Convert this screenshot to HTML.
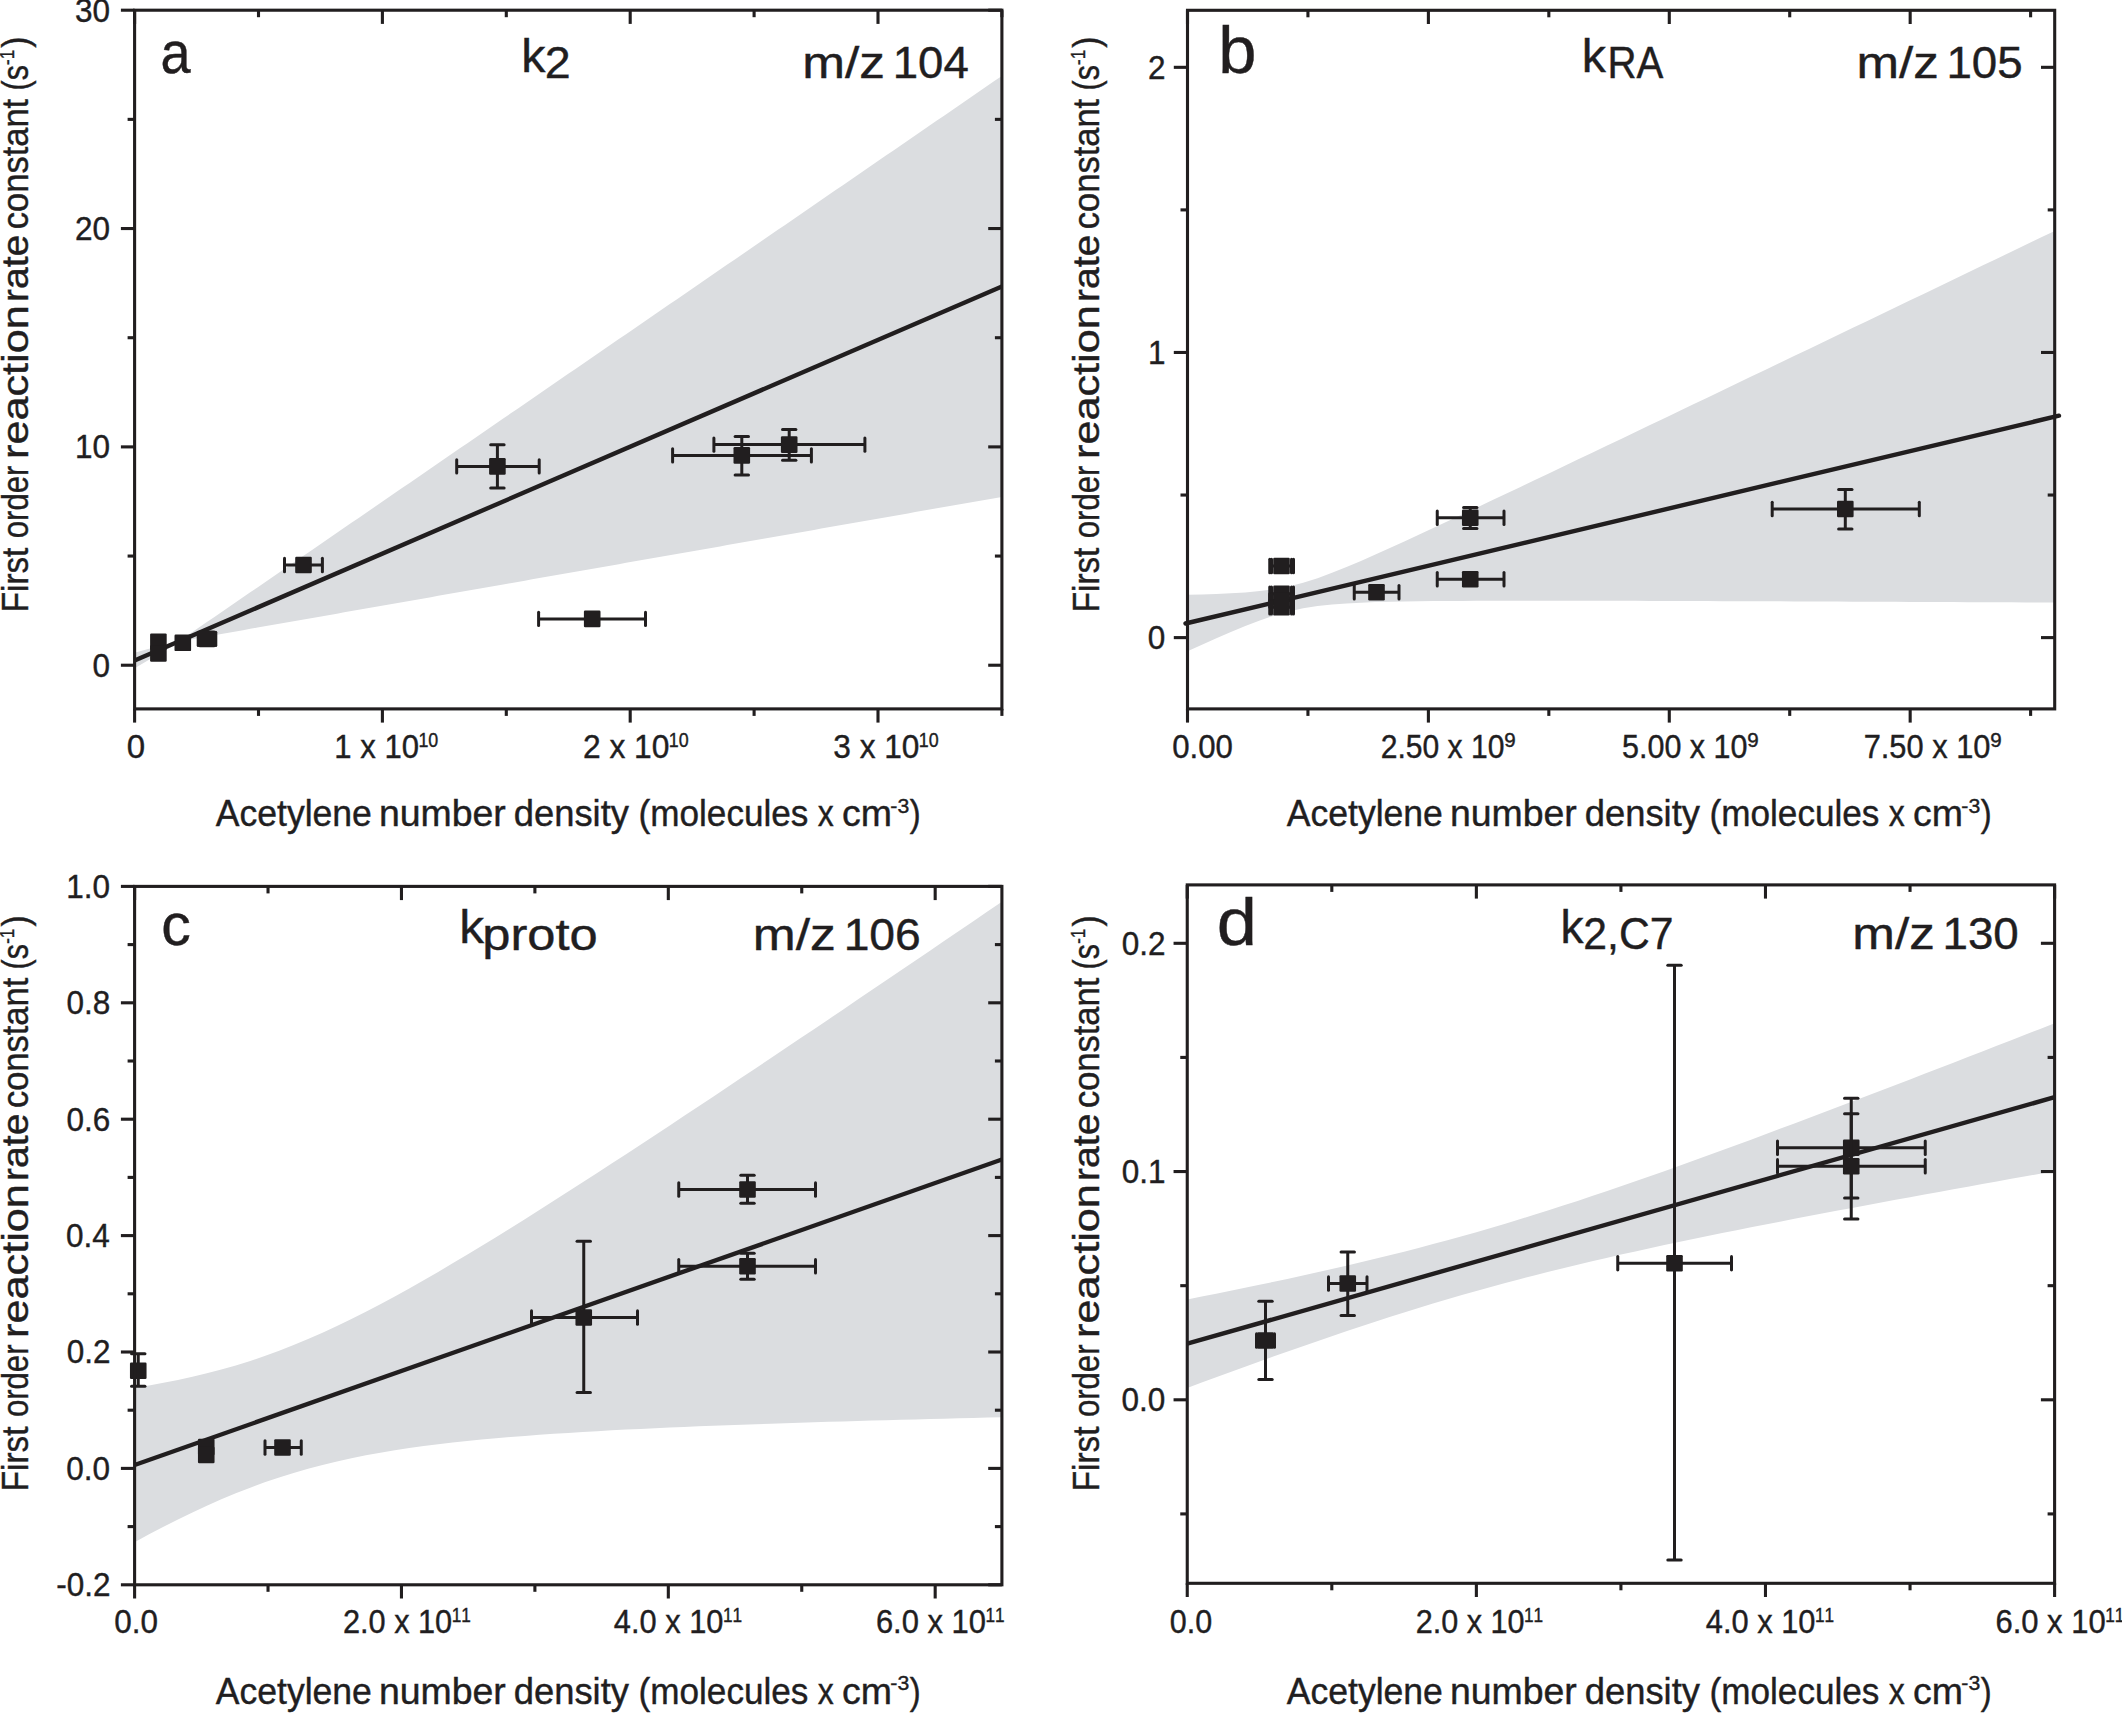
<!DOCTYPE html>
<html lang="en"><head><meta charset="utf-8"><title>First order reaction rate constants vs acetylene number density</title>
<style>html,body{margin:0;padding:0;background:#fff;}body{width:2122px;height:1713px;overflow:hidden;}svg{display:block;}text{font-family:'Liberation Sans', sans-serif;fill:#211e1f;stroke:#211e1f;stroke-width:0.4px;font-kerning:none;}</style>
</head><body>
<svg width="2122" height="1713" viewBox="0 0 2122 1713">
<rect width="2122" height="1713" fill="#ffffff"/>
<g id="panel-a">
<polygon fill="#dbdde0" points="134.6,652.84 141.83,650.81 149.06,648.77 156.28,646.74 163.51,644.71 170.74,642.67 177.96,640.64 185.19,636.8 192.42,631.98 199.65,627.07 206.88,622.12 214.1,617.17 221.33,612.22 228.56,607.26 235.78,602.3 243.01,597.33 250.24,592.37 257.47,587.41 264.69,582.44 271.92,577.48 279.15,572.51 286.38,567.55 293.61,562.58 300.83,557.62 308.06,552.65 315.29,547.69 322.51,542.72 329.74,537.75 336.97,532.79 344.2,527.82 351.42,522.86 358.65,517.89 365.88,512.93 373.11,507.96 380.33,502.99 387.56,498.03 394.79,493.06 402.02,488.1 409.25,483.13 416.47,478.16 423.7,473.2 430.93,468.23 438.15,463.27 445.38,458.3 452.61,453.33 459.84,448.37 467.06,443.4 474.29,438.44 481.52,433.47 488.75,428.5 495.98,423.54 503.2,418.57 510.43,413.6 517.66,408.64 524.88,403.67 532.11,398.71 539.34,393.74 546.57,388.77 553.79,383.81 561.02,378.84 568.25,373.87 575.48,368.91 582.7,363.94 589.93,358.98 597.16,354.01 604.39,349.04 611.62,344.08 618.84,339.11 626.07,334.15 633.3,329.18 640.52,324.21 647.75,319.25 654.98,314.28 662.21,309.31 669.43,304.35 676.66,299.38 683.89,294.42 691.12,289.45 698.35,284.48 705.57,279.52 712.8,274.55 720.03,269.58 727.25,264.62 734.48,259.65 741.71,254.69 748.94,249.72 756.17,244.75 763.39,239.79 770.62,234.82 777.85,229.85 785.08,224.89 792.3,219.92 799.53,214.96 806.76,209.99 813.99,205.02 821.21,200.06 828.44,195.09 835.67,190.12 842.89,185.16 850.12,180.19 857.35,175.23 864.58,170.26 871.8,165.29 879.03,160.33 886.26,155.36 893.49,150.39 900.71,145.43 907.94,140.46 915.17,135.5 922.4,130.53 929.62,125.56 936.85,120.6 944.08,115.63 951.31,110.66 958.53,105.7 965.76,100.73 972.99,95.76 980.22,90.8 987.44,85.83 994.67,80.87 1001.9,75.9 1001.9,496.9 994.67,498.17 987.44,499.44 980.22,500.71 972.99,501.98 965.76,503.24 958.53,504.51 951.31,505.78 944.08,507.05 936.85,508.32 929.62,509.59 922.4,510.86 915.17,512.12 907.94,513.39 900.71,514.66 893.49,515.93 886.26,517.2 879.03,518.47 871.8,519.74 864.58,521.01 857.35,522.27 850.12,523.54 842.89,524.81 835.67,526.08 828.44,527.35 821.21,528.62 813.99,529.89 806.76,531.16 799.53,532.42 792.3,533.69 785.08,534.96 777.85,536.23 770.62,537.5 763.39,538.77 756.17,540.04 748.94,541.31 741.71,542.57 734.48,543.84 727.25,545.11 720.03,546.38 712.8,547.65 705.57,548.92 698.35,550.19 691.12,551.46 683.89,552.72 676.66,553.99 669.43,555.26 662.21,556.53 654.98,557.8 647.75,559.07 640.52,560.34 633.3,561.61 626.07,562.87 618.84,564.14 611.62,565.41 604.39,566.68 597.16,567.95 589.93,569.22 582.7,570.49 575.48,571.76 568.25,573.03 561.02,574.29 553.79,575.56 546.57,576.83 539.34,578.1 532.11,579.37 524.88,580.64 517.66,581.91 510.43,583.18 503.2,584.44 495.98,585.71 488.75,586.98 481.52,588.25 474.29,589.52 467.06,590.79 459.84,592.06 452.61,593.33 445.38,594.6 438.15,595.86 430.93,597.13 423.7,598.4 416.47,599.67 409.25,600.94 402.02,602.21 394.79,603.48 387.56,604.75 380.33,606.02 373.11,607.29 365.88,608.55 358.65,609.82 351.42,611.09 344.2,612.36 336.97,613.63 329.74,614.9 322.51,616.17 315.29,617.44 308.06,618.71 300.83,619.98 293.61,621.25 286.38,622.52 279.15,623.79 271.92,625.06 264.69,626.33 257.47,627.6 250.24,628.87 243.01,630.14 235.78,631.41 228.56,632.69 221.33,633.96 214.1,635.24 206.88,636.53 199.65,637.82 192.42,639.14 185.19,640.55 177.96,642.95 170.74,647.15 163.51,651.35 156.28,655.56 149.06,659.76 141.83,663.96 134.6,668.16"/>
<line x1="134.6" y1="660.5" x2="1001.9" y2="286.4" stroke="#211e1f" stroke-width="4.4" stroke-linecap="butt"/>
<rect x="150.1" y="633.4" width="16.6" height="16.6" rx="1.2" fill="#211e1f"/>
<rect x="150.1" y="645.2" width="16.6" height="16.6" rx="1.2" fill="#211e1f"/>
<rect x="174.5" y="634.5" width="16.6" height="16.6" rx="1.2" fill="#211e1f"/>
<line x1="198.2" y1="638.9" x2="215.8" y2="638.9" stroke="#211e1f" stroke-width="3.0" stroke-linecap="butt"/>
<line x1="198.2" y1="632.2" x2="198.2" y2="645.6" stroke="#211e1f" stroke-width="3.0" stroke-linecap="round"/>
<line x1="215.8" y1="632.2" x2="215.8" y2="645.6" stroke="#211e1f" stroke-width="3.0" stroke-linecap="round"/>
<rect x="198.7" y="630.6" width="16.6" height="16.6" rx="1.2" fill="#211e1f"/>
<line x1="284.5" y1="565" x2="322.4" y2="565" stroke="#211e1f" stroke-width="3.0" stroke-linecap="butt"/>
<line x1="284.5" y1="558.3" x2="284.5" y2="571.7" stroke="#211e1f" stroke-width="3.0" stroke-linecap="round"/>
<line x1="322.4" y1="558.3" x2="322.4" y2="571.7" stroke="#211e1f" stroke-width="3.0" stroke-linecap="round"/>
<rect x="295.2" y="556.7" width="16.6" height="16.6" rx="1.2" fill="#211e1f"/>
<line x1="456.7" y1="466.4" x2="539.2" y2="466.4" stroke="#211e1f" stroke-width="3.0" stroke-linecap="butt"/>
<line x1="456.7" y1="459.7" x2="456.7" y2="473.1" stroke="#211e1f" stroke-width="3.0" stroke-linecap="round"/>
<line x1="539.2" y1="459.7" x2="539.2" y2="473.1" stroke="#211e1f" stroke-width="3.0" stroke-linecap="round"/>
<line x1="497.4" y1="444.7" x2="497.4" y2="488" stroke="#211e1f" stroke-width="3.0" stroke-linecap="butt"/>
<line x1="490.7" y1="444.7" x2="504.1" y2="444.7" stroke="#211e1f" stroke-width="3.0" stroke-linecap="round"/>
<line x1="490.7" y1="488" x2="504.1" y2="488" stroke="#211e1f" stroke-width="3.0" stroke-linecap="round"/>
<rect x="489.1" y="458.1" width="16.6" height="16.6" rx="1.2" fill="#211e1f"/>
<line x1="538.6" y1="618.9" x2="645.5" y2="618.9" stroke="#211e1f" stroke-width="3.0" stroke-linecap="butt"/>
<line x1="538.6" y1="612.2" x2="538.6" y2="625.6" stroke="#211e1f" stroke-width="3.0" stroke-linecap="round"/>
<line x1="645.5" y1="612.2" x2="645.5" y2="625.6" stroke="#211e1f" stroke-width="3.0" stroke-linecap="round"/>
<rect x="583.9" y="610.6" width="16.6" height="16.6" rx="1.2" fill="#211e1f"/>
<line x1="672.6" y1="455.4" x2="811.4" y2="455.4" stroke="#211e1f" stroke-width="3.0" stroke-linecap="butt"/>
<line x1="672.6" y1="448.7" x2="672.6" y2="462.1" stroke="#211e1f" stroke-width="3.0" stroke-linecap="round"/>
<line x1="811.4" y1="448.7" x2="811.4" y2="462.1" stroke="#211e1f" stroke-width="3.0" stroke-linecap="round"/>
<line x1="741.8" y1="436.4" x2="741.8" y2="475" stroke="#211e1f" stroke-width="3.0" stroke-linecap="butt"/>
<line x1="735.1" y1="436.4" x2="748.5" y2="436.4" stroke="#211e1f" stroke-width="3.0" stroke-linecap="round"/>
<line x1="735.1" y1="475" x2="748.5" y2="475" stroke="#211e1f" stroke-width="3.0" stroke-linecap="round"/>
<rect x="733.5" y="447.1" width="16.6" height="16.6" rx="1.2" fill="#211e1f"/>
<line x1="713.9" y1="444.6" x2="864.9" y2="444.6" stroke="#211e1f" stroke-width="3.0" stroke-linecap="butt"/>
<line x1="713.9" y1="437.9" x2="713.9" y2="451.3" stroke="#211e1f" stroke-width="3.0" stroke-linecap="round"/>
<line x1="864.9" y1="437.9" x2="864.9" y2="451.3" stroke="#211e1f" stroke-width="3.0" stroke-linecap="round"/>
<line x1="789.2" y1="429.4" x2="789.2" y2="460.2" stroke="#211e1f" stroke-width="3.0" stroke-linecap="butt"/>
<line x1="782.5" y1="429.4" x2="795.9" y2="429.4" stroke="#211e1f" stroke-width="3.0" stroke-linecap="round"/>
<line x1="782.5" y1="460.2" x2="795.9" y2="460.2" stroke="#211e1f" stroke-width="3.0" stroke-linecap="round"/>
<rect x="780.9" y="436.3" width="16.6" height="16.6" rx="1.2" fill="#211e1f"/>
<line x1="134.6" y1="708.9" x2="134.6" y2="722.6" stroke="#211e1f" stroke-width="3.1" stroke-linecap="butt"/>
<line x1="134.6" y1="10.2" x2="134.6" y2="23.9" stroke="#211e1f" stroke-width="3.1" stroke-linecap="butt"/>
<line x1="382.4" y1="708.9" x2="382.4" y2="722.6" stroke="#211e1f" stroke-width="3.1" stroke-linecap="butt"/>
<line x1="382.4" y1="10.2" x2="382.4" y2="23.9" stroke="#211e1f" stroke-width="3.1" stroke-linecap="butt"/>
<line x1="630.2" y1="708.9" x2="630.2" y2="722.6" stroke="#211e1f" stroke-width="3.1" stroke-linecap="butt"/>
<line x1="630.2" y1="10.2" x2="630.2" y2="23.9" stroke="#211e1f" stroke-width="3.1" stroke-linecap="butt"/>
<line x1="878" y1="708.9" x2="878" y2="722.6" stroke="#211e1f" stroke-width="3.1" stroke-linecap="butt"/>
<line x1="878" y1="10.2" x2="878" y2="23.9" stroke="#211e1f" stroke-width="3.1" stroke-linecap="butt"/>
<line x1="258.5" y1="708.9" x2="258.5" y2="715.9" stroke="#211e1f" stroke-width="3.1" stroke-linecap="butt"/>
<line x1="258.5" y1="10.2" x2="258.5" y2="17.2" stroke="#211e1f" stroke-width="3.1" stroke-linecap="butt"/>
<line x1="506.3" y1="708.9" x2="506.3" y2="715.9" stroke="#211e1f" stroke-width="3.1" stroke-linecap="butt"/>
<line x1="506.3" y1="10.2" x2="506.3" y2="17.2" stroke="#211e1f" stroke-width="3.1" stroke-linecap="butt"/>
<line x1="754.1" y1="708.9" x2="754.1" y2="715.9" stroke="#211e1f" stroke-width="3.1" stroke-linecap="butt"/>
<line x1="754.1" y1="10.2" x2="754.1" y2="17.2" stroke="#211e1f" stroke-width="3.1" stroke-linecap="butt"/>
<line x1="1001.9" y1="708.9" x2="1001.9" y2="715.9" stroke="#211e1f" stroke-width="3.1" stroke-linecap="butt"/>
<line x1="1001.9" y1="10.2" x2="1001.9" y2="17.2" stroke="#211e1f" stroke-width="3.1" stroke-linecap="butt"/>
<line x1="120.9" y1="665.23" x2="134.6" y2="665.23" stroke="#211e1f" stroke-width="3.1" stroke-linecap="butt"/>
<line x1="988.2" y1="665.23" x2="1001.9" y2="665.23" stroke="#211e1f" stroke-width="3.1" stroke-linecap="butt"/>
<line x1="120.9" y1="446.89" x2="134.6" y2="446.89" stroke="#211e1f" stroke-width="3.1" stroke-linecap="butt"/>
<line x1="988.2" y1="446.89" x2="1001.9" y2="446.89" stroke="#211e1f" stroke-width="3.1" stroke-linecap="butt"/>
<line x1="120.9" y1="228.54" x2="134.6" y2="228.54" stroke="#211e1f" stroke-width="3.1" stroke-linecap="butt"/>
<line x1="988.2" y1="228.54" x2="1001.9" y2="228.54" stroke="#211e1f" stroke-width="3.1" stroke-linecap="butt"/>
<line x1="120.9" y1="10.2" x2="134.6" y2="10.2" stroke="#211e1f" stroke-width="3.1" stroke-linecap="butt"/>
<line x1="988.2" y1="10.2" x2="1001.9" y2="10.2" stroke="#211e1f" stroke-width="3.1" stroke-linecap="butt"/>
<line x1="127.6" y1="556.06" x2="134.6" y2="556.06" stroke="#211e1f" stroke-width="3.1" stroke-linecap="butt"/>
<line x1="994.9" y1="556.06" x2="1001.9" y2="556.06" stroke="#211e1f" stroke-width="3.1" stroke-linecap="butt"/>
<line x1="127.6" y1="337.72" x2="134.6" y2="337.72" stroke="#211e1f" stroke-width="3.1" stroke-linecap="butt"/>
<line x1="994.9" y1="337.72" x2="1001.9" y2="337.72" stroke="#211e1f" stroke-width="3.1" stroke-linecap="butt"/>
<line x1="127.6" y1="119.37" x2="134.6" y2="119.37" stroke="#211e1f" stroke-width="3.1" stroke-linecap="butt"/>
<line x1="994.9" y1="119.37" x2="1001.9" y2="119.37" stroke="#211e1f" stroke-width="3.1" stroke-linecap="butt"/>
<rect x="134.6" y="10.2" width="867.3" height="698.7" fill="none" stroke="#211e1f" stroke-width="3.1"/>
<text transform="translate(110.13,21.55) scale(0.955,1)" font-size="33" text-anchor="end">30</text>
<text transform="translate(110.13,239.9) scale(0.955,1)" font-size="33" text-anchor="end">20</text>
<text transform="translate(110.13,458.24) scale(0.955,1)" font-size="33" text-anchor="end">10</text>
<text transform="translate(110.13,676.58) scale(0.955,1)" font-size="33" text-anchor="end">0</text>
<text x="126.71" y="757.7" font-size="33" text-anchor="start" textLength="18.38" lengthAdjust="spacingAndGlyphs">0</text>
<text x="334.33" y="757.7" font-size="33" text-anchor="start" textLength="84.68" lengthAdjust="spacingAndGlyphs">1 x 10</text>
<text x="418.44" y="746.7" font-size="20.5" text-anchor="start" textLength="19.86" lengthAdjust="spacingAndGlyphs" stroke-width="0.7">10</text>
<text x="582.9" y="757.7" font-size="33" text-anchor="start" textLength="86.54" lengthAdjust="spacingAndGlyphs">2 x 10</text>
<text x="668.84" y="746.7" font-size="20.5" text-anchor="start" textLength="19.86" lengthAdjust="spacingAndGlyphs" stroke-width="0.7">10</text>
<text x="833.3" y="757.7" font-size="33" text-anchor="start" textLength="86.14" lengthAdjust="spacingAndGlyphs">3 x 10</text>
<text x="918.84" y="746.7" font-size="20.5" text-anchor="start" textLength="19.86" lengthAdjust="spacingAndGlyphs" stroke-width="0.7">10</text>
<text x="215.83" y="826.3" font-size="36" text-anchor="start" textLength="156.05" lengthAdjust="spacingAndGlyphs">Acetylene</text>
<text x="378.91" y="826.3" font-size="36" text-anchor="start" textLength="126.91" lengthAdjust="spacingAndGlyphs">number</text>
<text x="513.77" y="826.3" font-size="36" text-anchor="start" textLength="115.2" lengthAdjust="spacingAndGlyphs">density</text>
<text x="638.62" y="826.3" font-size="36" text-anchor="start" textLength="169.75" lengthAdjust="spacingAndGlyphs">(molecules</text>
<text x="817.74" y="826.3" font-size="36" text-anchor="start" textLength="16" lengthAdjust="spacingAndGlyphs">x</text>
<text x="842.01" y="826.3" font-size="36" text-anchor="start" textLength="49.96" lengthAdjust="spacingAndGlyphs">cm</text>
<text x="890.36" y="812.8" font-size="21" text-anchor="start" textLength="18.88" lengthAdjust="spacingAndGlyphs" stroke-width="0.7">-3</text>
<text x="909.81" y="826.3" font-size="36" text-anchor="start" textLength="10.93" lengthAdjust="spacingAndGlyphs">)</text>
<g transform="translate(27.6,609.6) rotate(-90)">
<text x="-2.73" y="0" font-size="36" text-anchor="start" textLength="64.67" lengthAdjust="spacingAndGlyphs">First</text>
<text x="71.39" y="0" font-size="36" text-anchor="start" textLength="72.62" lengthAdjust="spacingAndGlyphs">order</text>
<text x="150.63" y="0" font-size="36" text-anchor="start" textLength="153.67" lengthAdjust="spacingAndGlyphs">reaction</text>
<text x="307.61" y="0" font-size="36" text-anchor="start" textLength="67.33" lengthAdjust="spacingAndGlyphs">rate</text>
<text x="380.44" y="0" font-size="36" text-anchor="start" textLength="130.32" lengthAdjust="spacingAndGlyphs">constant</text>
<text x="519.11" y="0" font-size="36" text-anchor="start" textLength="25.39" lengthAdjust="spacingAndGlyphs">(s</text>
<text x="544.64" y="-14" font-size="21" text-anchor="start" textLength="15.19" lengthAdjust="spacingAndGlyphs" stroke-width="0.7">-1</text>
<text x="561.91" y="0" font-size="36" text-anchor="start" textLength="11.05" lengthAdjust="spacingAndGlyphs">)</text>
</g>
<text x="160.46" y="73.25" font-size="60" text-anchor="start" textLength="30.04" lengthAdjust="spacingAndGlyphs">a</text>
<text x="521.24" y="71.75" font-size="46.5" text-anchor="start" textLength="24.19" lengthAdjust="spacingAndGlyphs">k</text>
<text x="544.65" y="77.5" font-size="44" text-anchor="start" textLength="25.94" lengthAdjust="spacingAndGlyphs">2</text>
<text x="802.34" y="77.5" font-size="44" text-anchor="start" textLength="82.72" lengthAdjust="spacingAndGlyphs">m/z</text>
<text x="892.78" y="77.5" font-size="44" text-anchor="start" textLength="76.06" lengthAdjust="spacingAndGlyphs">104</text>
</g>
<g id="panel-b">
<polygon fill="#dbdde0" points="1187.5,594.73 1201.95,594.4 1216.41,593.95 1230.86,593.32 1245.31,592.42 1259.77,591.11 1274.22,589.2 1288.67,586.47 1303.13,582.77 1317.58,578.15 1332.03,572.83 1346.49,567.02 1360.94,560.88 1375.39,554.53 1389.85,548.03 1404.3,541.44 1418.75,534.77 1433.21,528.05 1447.66,521.29 1462.11,514.5 1476.57,507.69 1491.02,500.86 1505.47,494.01 1519.93,487.15 1534.38,480.28 1548.83,473.4 1563.29,466.51 1577.74,459.62 1592.19,452.72 1606.65,445.82 1621.1,438.91 1635.55,432 1650.01,425.08 1664.46,418.16 1678.91,411.24 1693.37,404.32 1707.82,397.4 1722.27,390.47 1736.73,383.54 1751.18,376.61 1765.63,369.68 1780.09,362.75 1794.54,355.82 1808.99,348.88 1823.45,341.95 1837.9,335.01 1852.35,328.08 1866.81,321.14 1881.26,314.2 1895.71,307.26 1910.17,300.32 1924.62,293.38 1939.07,286.44 1953.53,279.5 1967.98,272.56 1982.43,265.62 1996.89,258.67 2011.34,251.73 2025.79,244.79 2040.25,237.85 2054.7,230.9 2054.7,602.54 2040.25,602.48 2025.79,602.41 2011.34,602.34 1996.89,602.28 1982.43,602.21 1967.98,602.15 1953.53,602.08 1939.07,602.02 1924.62,601.95 1910.17,601.89 1895.71,601.83 1881.26,601.77 1866.81,601.71 1852.35,601.64 1837.9,601.58 1823.45,601.52 1808.99,601.47 1794.54,601.41 1780.09,601.35 1765.63,601.3 1751.18,601.24 1736.73,601.19 1722.27,601.14 1707.82,601.09 1693.37,601.04 1678.91,601 1664.46,600.95 1650.01,600.91 1635.55,600.87 1621.1,600.84 1606.65,600.81 1592.19,600.78 1577.74,600.76 1563.29,600.74 1548.83,600.73 1534.38,600.73 1519.93,600.73 1505.47,600.75 1491.02,600.78 1476.57,600.82 1462.11,600.89 1447.66,600.97 1433.21,601.09 1418.75,601.25 1404.3,601.46 1389.85,601.74 1375.39,602.12 1360.94,602.65 1346.49,603.39 1332.03,604.45 1317.58,606.01 1303.13,608.27 1288.67,611.44 1274.22,615.58 1259.77,620.55 1245.31,626.12 1230.86,632.1 1216.41,638.35 1201.95,644.77 1187.5,651.32"/>
<line x1="1185.5" y1="623.5" x2="2059" y2="415.7" stroke="#211e1f" stroke-width="4.4" stroke-linecap="round"/>
<line x1="1269.75" y1="566" x2="1293.5" y2="566" stroke="#211e1f" stroke-width="3.0" stroke-linecap="butt"/>
<line x1="1269.75" y1="559.3" x2="1269.75" y2="572.7" stroke="#211e1f" stroke-width="3.0" stroke-linecap="round"/>
<line x1="1293.5" y1="559.3" x2="1293.5" y2="572.7" stroke="#211e1f" stroke-width="3.0" stroke-linecap="round"/>
<rect x="1273.2" y="557.7" width="16.6" height="16.6" rx="1.2" fill="#211e1f"/>
<line x1="1269.75" y1="593.8" x2="1293.5" y2="593.8" stroke="#211e1f" stroke-width="3.0" stroke-linecap="butt"/>
<line x1="1269.75" y1="587.1" x2="1269.75" y2="600.5" stroke="#211e1f" stroke-width="3.0" stroke-linecap="round"/>
<line x1="1293.5" y1="587.1" x2="1293.5" y2="600.5" stroke="#211e1f" stroke-width="3.0" stroke-linecap="round"/>
<rect x="1273.2" y="585.5" width="16.6" height="16.6" rx="1.2" fill="#211e1f"/>
<line x1="1269.75" y1="600.5" x2="1293.5" y2="600.5" stroke="#211e1f" stroke-width="3.0" stroke-linecap="butt"/>
<line x1="1269.75" y1="593.8" x2="1269.75" y2="607.2" stroke="#211e1f" stroke-width="3.0" stroke-linecap="round"/>
<line x1="1293.5" y1="593.8" x2="1293.5" y2="607.2" stroke="#211e1f" stroke-width="3.0" stroke-linecap="round"/>
<rect x="1273.2" y="592.2" width="16.6" height="16.6" rx="1.2" fill="#211e1f"/>
<line x1="1269.75" y1="607.2" x2="1293.5" y2="607.2" stroke="#211e1f" stroke-width="3.0" stroke-linecap="butt"/>
<line x1="1269.75" y1="600.5" x2="1269.75" y2="613.9" stroke="#211e1f" stroke-width="3.0" stroke-linecap="round"/>
<line x1="1293.5" y1="600.5" x2="1293.5" y2="613.9" stroke="#211e1f" stroke-width="3.0" stroke-linecap="round"/>
<rect x="1273.2" y="598.9" width="16.6" height="16.6" rx="1.2" fill="#211e1f"/>
<line x1="1354.25" y1="592.25" x2="1399" y2="592.25" stroke="#211e1f" stroke-width="3.0" stroke-linecap="butt"/>
<line x1="1354.25" y1="585.55" x2="1354.25" y2="598.95" stroke="#211e1f" stroke-width="3.0" stroke-linecap="round"/>
<line x1="1399" y1="585.55" x2="1399" y2="598.95" stroke="#211e1f" stroke-width="3.0" stroke-linecap="round"/>
<rect x="1368.2" y="583.95" width="16.6" height="16.6" rx="1.2" fill="#211e1f"/>
<line x1="1437.25" y1="579.25" x2="1504" y2="579.25" stroke="#211e1f" stroke-width="3.0" stroke-linecap="butt"/>
<line x1="1437.25" y1="572.55" x2="1437.25" y2="585.95" stroke="#211e1f" stroke-width="3.0" stroke-linecap="round"/>
<line x1="1504" y1="572.55" x2="1504" y2="585.95" stroke="#211e1f" stroke-width="3.0" stroke-linecap="round"/>
<rect x="1461.95" y="570.95" width="16.6" height="16.6" rx="1.2" fill="#211e1f"/>
<line x1="1437.25" y1="517.75" x2="1504" y2="517.75" stroke="#211e1f" stroke-width="3.0" stroke-linecap="butt"/>
<line x1="1437.25" y1="511.05" x2="1437.25" y2="524.45" stroke="#211e1f" stroke-width="3.0" stroke-linecap="round"/>
<line x1="1504" y1="511.05" x2="1504" y2="524.45" stroke="#211e1f" stroke-width="3.0" stroke-linecap="round"/>
<line x1="1470.25" y1="507.5" x2="1470.25" y2="528.5" stroke="#211e1f" stroke-width="3.0" stroke-linecap="butt"/>
<line x1="1463.55" y1="507.5" x2="1476.95" y2="507.5" stroke="#211e1f" stroke-width="3.0" stroke-linecap="round"/>
<line x1="1463.55" y1="528.5" x2="1476.95" y2="528.5" stroke="#211e1f" stroke-width="3.0" stroke-linecap="round"/>
<rect x="1461.95" y="509.45" width="16.6" height="16.6" rx="1.2" fill="#211e1f"/>
<line x1="1772.2" y1="509" x2="1919.3" y2="509" stroke="#211e1f" stroke-width="3.0" stroke-linecap="butt"/>
<line x1="1772.2" y1="502.3" x2="1772.2" y2="515.7" stroke="#211e1f" stroke-width="3.0" stroke-linecap="round"/>
<line x1="1919.3" y1="502.3" x2="1919.3" y2="515.7" stroke="#211e1f" stroke-width="3.0" stroke-linecap="round"/>
<line x1="1845.3" y1="489.6" x2="1845.3" y2="529" stroke="#211e1f" stroke-width="3.0" stroke-linecap="butt"/>
<line x1="1838.6" y1="489.6" x2="1852" y2="489.6" stroke="#211e1f" stroke-width="3.0" stroke-linecap="round"/>
<line x1="1838.6" y1="529" x2="1852" y2="529" stroke="#211e1f" stroke-width="3.0" stroke-linecap="round"/>
<rect x="1837" y="500.7" width="16.6" height="16.6" rx="1.2" fill="#211e1f"/>
<line x1="1271.5" y1="559.3" x2="1271.5" y2="572.7" stroke="#211e1f" stroke-width="3.0" stroke-linecap="round"/>
<line x1="1291.5" y1="559.3" x2="1291.5" y2="572.7" stroke="#211e1f" stroke-width="3.0" stroke-linecap="round"/>
<line x1="1271.5" y1="587.1" x2="1271.5" y2="600.5" stroke="#211e1f" stroke-width="3.0" stroke-linecap="round"/>
<line x1="1291.5" y1="587.1" x2="1291.5" y2="600.5" stroke="#211e1f" stroke-width="3.0" stroke-linecap="round"/>
<line x1="1271.5" y1="593.8" x2="1271.5" y2="607.2" stroke="#211e1f" stroke-width="3.0" stroke-linecap="round"/>
<line x1="1291.5" y1="593.8" x2="1291.5" y2="607.2" stroke="#211e1f" stroke-width="3.0" stroke-linecap="round"/>
<line x1="1271.5" y1="600.5" x2="1271.5" y2="613.9" stroke="#211e1f" stroke-width="3.0" stroke-linecap="round"/>
<line x1="1291.5" y1="600.5" x2="1291.5" y2="613.9" stroke="#211e1f" stroke-width="3.0" stroke-linecap="round"/>
<line x1="1187.5" y1="708.9" x2="1187.5" y2="722.6" stroke="#211e1f" stroke-width="3.1" stroke-linecap="butt"/>
<line x1="1187.5" y1="10.3" x2="1187.5" y2="24" stroke="#211e1f" stroke-width="3.1" stroke-linecap="butt"/>
<line x1="1428.39" y1="708.9" x2="1428.39" y2="722.6" stroke="#211e1f" stroke-width="3.1" stroke-linecap="butt"/>
<line x1="1428.39" y1="10.3" x2="1428.39" y2="24" stroke="#211e1f" stroke-width="3.1" stroke-linecap="butt"/>
<line x1="1669.28" y1="708.9" x2="1669.28" y2="722.6" stroke="#211e1f" stroke-width="3.1" stroke-linecap="butt"/>
<line x1="1669.28" y1="10.3" x2="1669.28" y2="24" stroke="#211e1f" stroke-width="3.1" stroke-linecap="butt"/>
<line x1="1910.17" y1="708.9" x2="1910.17" y2="722.6" stroke="#211e1f" stroke-width="3.1" stroke-linecap="butt"/>
<line x1="1910.17" y1="10.3" x2="1910.17" y2="24" stroke="#211e1f" stroke-width="3.1" stroke-linecap="butt"/>
<line x1="1307.94" y1="708.9" x2="1307.94" y2="715.9" stroke="#211e1f" stroke-width="3.1" stroke-linecap="butt"/>
<line x1="1307.94" y1="10.3" x2="1307.94" y2="17.3" stroke="#211e1f" stroke-width="3.1" stroke-linecap="butt"/>
<line x1="1548.83" y1="708.9" x2="1548.83" y2="715.9" stroke="#211e1f" stroke-width="3.1" stroke-linecap="butt"/>
<line x1="1548.83" y1="10.3" x2="1548.83" y2="17.3" stroke="#211e1f" stroke-width="3.1" stroke-linecap="butt"/>
<line x1="1789.72" y1="708.9" x2="1789.72" y2="715.9" stroke="#211e1f" stroke-width="3.1" stroke-linecap="butt"/>
<line x1="1789.72" y1="10.3" x2="1789.72" y2="17.3" stroke="#211e1f" stroke-width="3.1" stroke-linecap="butt"/>
<line x1="2030.61" y1="708.9" x2="2030.61" y2="715.9" stroke="#211e1f" stroke-width="3.1" stroke-linecap="butt"/>
<line x1="2030.61" y1="10.3" x2="2030.61" y2="17.3" stroke="#211e1f" stroke-width="3.1" stroke-linecap="butt"/>
<line x1="1173.8" y1="637.61" x2="1187.5" y2="637.61" stroke="#211e1f" stroke-width="3.1" stroke-linecap="butt"/>
<line x1="2041" y1="637.61" x2="2054.7" y2="637.61" stroke="#211e1f" stroke-width="3.1" stroke-linecap="butt"/>
<line x1="1173.8" y1="352.47" x2="1187.5" y2="352.47" stroke="#211e1f" stroke-width="3.1" stroke-linecap="butt"/>
<line x1="2041" y1="352.47" x2="2054.7" y2="352.47" stroke="#211e1f" stroke-width="3.1" stroke-linecap="butt"/>
<line x1="1173.8" y1="67.33" x2="1187.5" y2="67.33" stroke="#211e1f" stroke-width="3.1" stroke-linecap="butt"/>
<line x1="2041" y1="67.33" x2="2054.7" y2="67.33" stroke="#211e1f" stroke-width="3.1" stroke-linecap="butt"/>
<line x1="1180.5" y1="495.04" x2="1187.5" y2="495.04" stroke="#211e1f" stroke-width="3.1" stroke-linecap="butt"/>
<line x1="2047.7" y1="495.04" x2="2054.7" y2="495.04" stroke="#211e1f" stroke-width="3.1" stroke-linecap="butt"/>
<line x1="1180.5" y1="209.9" x2="1187.5" y2="209.9" stroke="#211e1f" stroke-width="3.1" stroke-linecap="butt"/>
<line x1="2047.7" y1="209.9" x2="2054.7" y2="209.9" stroke="#211e1f" stroke-width="3.1" stroke-linecap="butt"/>
<rect x="1187.5" y="10.3" width="867.2" height="698.6" fill="none" stroke="#211e1f" stroke-width="3.1"/>
<text transform="translate(1165.58,78.68) scale(0.955,1)" font-size="33" text-anchor="end">2</text>
<text transform="translate(1165.54,363.82) scale(0.955,1)" font-size="33" text-anchor="end">1</text>
<text transform="translate(1165.23,648.97) scale(0.955,1)" font-size="33" text-anchor="end">0</text>
<text x="1172.28" y="758" font-size="33" text-anchor="start" textLength="60.69" lengthAdjust="spacingAndGlyphs">0.00</text>
<text x="1380.74" y="758" font-size="33" text-anchor="start" textLength="123.69" lengthAdjust="spacingAndGlyphs">2.50 x 10</text>
<text x="1504.29" y="747" font-size="20.5" text-anchor="start" textLength="11.44" lengthAdjust="spacingAndGlyphs" stroke-width="0.7">9</text>
<text x="1622.03" y="758" font-size="33" text-anchor="start" textLength="125.41" lengthAdjust="spacingAndGlyphs">5.00 x 10</text>
<text x="1747.29" y="747" font-size="20.5" text-anchor="start" textLength="11.44" lengthAdjust="spacingAndGlyphs" stroke-width="0.7">9</text>
<text x="1863.67" y="758" font-size="33" text-anchor="start" textLength="126.78" lengthAdjust="spacingAndGlyphs">7.50 x 10</text>
<text x="1990.29" y="747" font-size="20.5" text-anchor="start" textLength="11.44" lengthAdjust="spacingAndGlyphs" stroke-width="0.7">9</text>
<text x="1286.83" y="826.3" font-size="36" text-anchor="start" textLength="156.05" lengthAdjust="spacingAndGlyphs">Acetylene</text>
<text x="1449.91" y="826.3" font-size="36" text-anchor="start" textLength="126.91" lengthAdjust="spacingAndGlyphs">number</text>
<text x="1584.77" y="826.3" font-size="36" text-anchor="start" textLength="115.2" lengthAdjust="spacingAndGlyphs">density</text>
<text x="1709.62" y="826.3" font-size="36" text-anchor="start" textLength="169.75" lengthAdjust="spacingAndGlyphs">(molecules</text>
<text x="1888.74" y="826.3" font-size="36" text-anchor="start" textLength="16" lengthAdjust="spacingAndGlyphs">x</text>
<text x="1913.01" y="826.3" font-size="36" text-anchor="start" textLength="49.96" lengthAdjust="spacingAndGlyphs">cm</text>
<text x="1961.36" y="812.8" font-size="21" text-anchor="start" textLength="18.88" lengthAdjust="spacingAndGlyphs" stroke-width="0.7">-3</text>
<text x="1980.81" y="826.3" font-size="36" text-anchor="start" textLength="10.93" lengthAdjust="spacingAndGlyphs">)</text>
<g transform="translate(1098.6,609.6) rotate(-90)">
<text x="-2.73" y="0" font-size="36" text-anchor="start" textLength="64.67" lengthAdjust="spacingAndGlyphs">First</text>
<text x="71.39" y="0" font-size="36" text-anchor="start" textLength="72.62" lengthAdjust="spacingAndGlyphs">order</text>
<text x="150.63" y="0" font-size="36" text-anchor="start" textLength="153.67" lengthAdjust="spacingAndGlyphs">reaction</text>
<text x="307.61" y="0" font-size="36" text-anchor="start" textLength="67.33" lengthAdjust="spacingAndGlyphs">rate</text>
<text x="380.44" y="0" font-size="36" text-anchor="start" textLength="130.32" lengthAdjust="spacingAndGlyphs">constant</text>
<text x="519.11" y="0" font-size="36" text-anchor="start" textLength="25.39" lengthAdjust="spacingAndGlyphs">(s</text>
<text x="544.64" y="-14" font-size="21" text-anchor="start" textLength="15.19" lengthAdjust="spacingAndGlyphs" stroke-width="0.7">-1</text>
<text x="561.91" y="0" font-size="36" text-anchor="start" textLength="11.05" lengthAdjust="spacingAndGlyphs">)</text>
</g>
<text x="1218.17" y="73.25" font-size="66" text-anchor="start" textLength="38.21" lengthAdjust="spacingAndGlyphs">b</text>
<text x="1581.74" y="71.75" font-size="46.5" text-anchor="start" textLength="24.19" lengthAdjust="spacingAndGlyphs">k</text>
<text x="1607.45" y="77.5" font-size="43.5" text-anchor="start" textLength="55.88" lengthAdjust="spacingAndGlyphs">RA</text>
<text x="1856.61" y="77.5" font-size="44" text-anchor="start" textLength="82.21" lengthAdjust="spacingAndGlyphs">m/z</text>
<text x="1946.46" y="77.5" font-size="44" text-anchor="start" textLength="76.21" lengthAdjust="spacingAndGlyphs">105</text>
</g>
<g id="panel-c">
<polygon fill="#dbdde0" points="134.6,1387.86 149.06,1385.48 163.51,1382.86 177.96,1379.98 192.42,1376.83 206.88,1373.36 221.33,1369.57 235.78,1365.42 250.24,1360.91 264.69,1356.02 279.15,1350.75 293.61,1345.1 308.06,1339.09 322.51,1332.73 336.97,1326.03 351.42,1319.02 365.88,1311.73 380.33,1304.19 394.79,1296.4 409.25,1288.41 423.7,1280.23 438.15,1271.88 452.61,1263.37 467.06,1254.74 481.52,1245.99 495.98,1237.13 510.43,1228.18 524.88,1219.14 539.34,1210.03 553.79,1200.85 568.25,1191.61 582.7,1182.31 597.16,1172.97 611.62,1163.58 626.07,1154.15 640.52,1144.68 654.98,1135.18 669.43,1125.65 683.89,1116.09 698.35,1106.51 712.8,1096.9 727.25,1087.27 741.71,1077.62 756.17,1067.96 770.62,1058.27 785.08,1048.57 799.53,1038.86 813.99,1029.13 828.44,1019.39 842.89,1009.64 857.35,999.87 871.8,990.1 886.26,980.32 900.71,970.52 915.17,960.72 929.62,950.91 944.08,941.1 958.53,931.27 972.99,921.44 987.44,911.61 1001.9,901.77 1001.9,1417.23 987.44,1417.58 972.99,1417.92 958.53,1418.28 944.08,1418.64 929.62,1419 915.17,1419.38 900.71,1419.76 886.26,1420.15 871.8,1420.55 857.35,1420.96 842.89,1421.38 828.44,1421.81 813.99,1422.25 799.53,1422.71 785.08,1423.18 770.62,1423.66 756.17,1424.16 741.71,1424.68 727.25,1425.21 712.8,1425.77 698.35,1426.34 683.89,1426.94 669.43,1427.57 654.98,1428.22 640.52,1428.9 626.07,1429.62 611.62,1430.37 597.16,1431.17 582.7,1432.01 568.25,1432.89 553.79,1433.84 539.34,1434.84 524.88,1435.91 510.43,1437.06 495.98,1438.29 481.52,1439.61 467.06,1441.04 452.61,1442.59 438.15,1444.27 423.7,1446.11 409.25,1448.11 394.79,1450.3 380.33,1452.7 365.88,1455.33 351.42,1458.23 336.97,1461.4 322.51,1464.89 308.06,1468.71 293.61,1472.88 279.15,1477.42 264.69,1482.33 250.24,1487.63 235.78,1493.3 221.33,1499.33 206.88,1505.72 192.42,1512.44 177.96,1519.47 163.51,1526.77 149.06,1534.34 134.6,1542.14"/>
<line x1="134.6" y1="1465" x2="1001.9" y2="1159.5" stroke="#211e1f" stroke-width="4.4" stroke-linecap="butt"/>
<line x1="138.25" y1="1353.75" x2="138.25" y2="1386.25" stroke="#211e1f" stroke-width="3.0" stroke-linecap="butt"/>
<line x1="131.55" y1="1353.75" x2="144.95" y2="1353.75" stroke="#211e1f" stroke-width="3.0" stroke-linecap="round"/>
<line x1="131.55" y1="1386.25" x2="144.95" y2="1386.25" stroke="#211e1f" stroke-width="3.0" stroke-linecap="round"/>
<rect x="129.95" y="1362.45" width="16.6" height="16.6" rx="1.2" fill="#211e1f"/>
<rect x="197.95" y="1438.7" width="16.6" height="16.6" rx="1.2" fill="#211e1f"/>
<rect x="197.95" y="1446.7" width="16.6" height="16.6" rx="1.2" fill="#211e1f"/>
<line x1="265" y1="1447.5" x2="301.25" y2="1447.5" stroke="#211e1f" stroke-width="3.0" stroke-linecap="butt"/>
<line x1="265" y1="1440.8" x2="265" y2="1454.2" stroke="#211e1f" stroke-width="3.0" stroke-linecap="round"/>
<line x1="301.25" y1="1440.8" x2="301.25" y2="1454.2" stroke="#211e1f" stroke-width="3.0" stroke-linecap="round"/>
<rect x="274.2" y="1439.2" width="16.6" height="16.6" rx="1.2" fill="#211e1f"/>
<line x1="531.5" y1="1317.5" x2="637.5" y2="1317.5" stroke="#211e1f" stroke-width="3.0" stroke-linecap="butt"/>
<line x1="531.5" y1="1310.8" x2="531.5" y2="1324.2" stroke="#211e1f" stroke-width="3.0" stroke-linecap="round"/>
<line x1="637.5" y1="1310.8" x2="637.5" y2="1324.2" stroke="#211e1f" stroke-width="3.0" stroke-linecap="round"/>
<line x1="583.75" y1="1241.25" x2="583.75" y2="1392.5" stroke="#211e1f" stroke-width="3.0" stroke-linecap="butt"/>
<line x1="577.05" y1="1241.25" x2="590.45" y2="1241.25" stroke="#211e1f" stroke-width="3.0" stroke-linecap="round"/>
<line x1="577.05" y1="1392.5" x2="590.45" y2="1392.5" stroke="#211e1f" stroke-width="3.0" stroke-linecap="round"/>
<rect x="575.45" y="1309.2" width="16.6" height="16.6" rx="1.2" fill="#211e1f"/>
<line x1="678.75" y1="1189.5" x2="815.5" y2="1189.5" stroke="#211e1f" stroke-width="3.0" stroke-linecap="butt"/>
<line x1="678.75" y1="1182.8" x2="678.75" y2="1196.2" stroke="#211e1f" stroke-width="3.0" stroke-linecap="round"/>
<line x1="815.5" y1="1182.8" x2="815.5" y2="1196.2" stroke="#211e1f" stroke-width="3.0" stroke-linecap="round"/>
<line x1="747.5" y1="1175.25" x2="747.5" y2="1203.25" stroke="#211e1f" stroke-width="3.0" stroke-linecap="butt"/>
<line x1="740.8" y1="1175.25" x2="754.2" y2="1175.25" stroke="#211e1f" stroke-width="3.0" stroke-linecap="round"/>
<line x1="740.8" y1="1203.25" x2="754.2" y2="1203.25" stroke="#211e1f" stroke-width="3.0" stroke-linecap="round"/>
<rect x="739.2" y="1181.2" width="16.6" height="16.6" rx="1.2" fill="#211e1f"/>
<line x1="678.75" y1="1266.25" x2="815.5" y2="1266.25" stroke="#211e1f" stroke-width="3.0" stroke-linecap="butt"/>
<line x1="678.75" y1="1259.55" x2="678.75" y2="1272.95" stroke="#211e1f" stroke-width="3.0" stroke-linecap="round"/>
<line x1="815.5" y1="1259.55" x2="815.5" y2="1272.95" stroke="#211e1f" stroke-width="3.0" stroke-linecap="round"/>
<line x1="747.5" y1="1253.25" x2="747.5" y2="1279.25" stroke="#211e1f" stroke-width="3.0" stroke-linecap="butt"/>
<line x1="740.8" y1="1253.25" x2="754.2" y2="1253.25" stroke="#211e1f" stroke-width="3.0" stroke-linecap="round"/>
<line x1="740.8" y1="1279.25" x2="754.2" y2="1279.25" stroke="#211e1f" stroke-width="3.0" stroke-linecap="round"/>
<rect x="739.2" y="1257.95" width="16.6" height="16.6" rx="1.2" fill="#211e1f"/>
<line x1="134.6" y1="1584.8" x2="134.6" y2="1598.5" stroke="#211e1f" stroke-width="3.1" stroke-linecap="butt"/>
<line x1="134.6" y1="886.4" x2="134.6" y2="900.1" stroke="#211e1f" stroke-width="3.1" stroke-linecap="butt"/>
<line x1="401.46" y1="1584.8" x2="401.46" y2="1598.5" stroke="#211e1f" stroke-width="3.1" stroke-linecap="butt"/>
<line x1="401.46" y1="886.4" x2="401.46" y2="900.1" stroke="#211e1f" stroke-width="3.1" stroke-linecap="butt"/>
<line x1="668.32" y1="1584.8" x2="668.32" y2="1598.5" stroke="#211e1f" stroke-width="3.1" stroke-linecap="butt"/>
<line x1="668.32" y1="886.4" x2="668.32" y2="900.1" stroke="#211e1f" stroke-width="3.1" stroke-linecap="butt"/>
<line x1="935.18" y1="1584.8" x2="935.18" y2="1598.5" stroke="#211e1f" stroke-width="3.1" stroke-linecap="butt"/>
<line x1="935.18" y1="886.4" x2="935.18" y2="900.1" stroke="#211e1f" stroke-width="3.1" stroke-linecap="butt"/>
<line x1="268.03" y1="1584.8" x2="268.03" y2="1591.8" stroke="#211e1f" stroke-width="3.1" stroke-linecap="butt"/>
<line x1="268.03" y1="886.4" x2="268.03" y2="893.4" stroke="#211e1f" stroke-width="3.1" stroke-linecap="butt"/>
<line x1="534.89" y1="1584.8" x2="534.89" y2="1591.8" stroke="#211e1f" stroke-width="3.1" stroke-linecap="butt"/>
<line x1="534.89" y1="886.4" x2="534.89" y2="893.4" stroke="#211e1f" stroke-width="3.1" stroke-linecap="butt"/>
<line x1="801.75" y1="1584.8" x2="801.75" y2="1591.8" stroke="#211e1f" stroke-width="3.1" stroke-linecap="butt"/>
<line x1="801.75" y1="886.4" x2="801.75" y2="893.4" stroke="#211e1f" stroke-width="3.1" stroke-linecap="butt"/>
<line x1="120.9" y1="1584.8" x2="134.6" y2="1584.8" stroke="#211e1f" stroke-width="3.1" stroke-linecap="butt"/>
<line x1="988.2" y1="1584.8" x2="1001.9" y2="1584.8" stroke="#211e1f" stroke-width="3.1" stroke-linecap="butt"/>
<line x1="120.9" y1="1468.4" x2="134.6" y2="1468.4" stroke="#211e1f" stroke-width="3.1" stroke-linecap="butt"/>
<line x1="988.2" y1="1468.4" x2="1001.9" y2="1468.4" stroke="#211e1f" stroke-width="3.1" stroke-linecap="butt"/>
<line x1="120.9" y1="1352" x2="134.6" y2="1352" stroke="#211e1f" stroke-width="3.1" stroke-linecap="butt"/>
<line x1="988.2" y1="1352" x2="1001.9" y2="1352" stroke="#211e1f" stroke-width="3.1" stroke-linecap="butt"/>
<line x1="120.9" y1="1235.6" x2="134.6" y2="1235.6" stroke="#211e1f" stroke-width="3.1" stroke-linecap="butt"/>
<line x1="988.2" y1="1235.6" x2="1001.9" y2="1235.6" stroke="#211e1f" stroke-width="3.1" stroke-linecap="butt"/>
<line x1="120.9" y1="1119.2" x2="134.6" y2="1119.2" stroke="#211e1f" stroke-width="3.1" stroke-linecap="butt"/>
<line x1="988.2" y1="1119.2" x2="1001.9" y2="1119.2" stroke="#211e1f" stroke-width="3.1" stroke-linecap="butt"/>
<line x1="120.9" y1="1002.8" x2="134.6" y2="1002.8" stroke="#211e1f" stroke-width="3.1" stroke-linecap="butt"/>
<line x1="988.2" y1="1002.8" x2="1001.9" y2="1002.8" stroke="#211e1f" stroke-width="3.1" stroke-linecap="butt"/>
<line x1="120.9" y1="886.4" x2="134.6" y2="886.4" stroke="#211e1f" stroke-width="3.1" stroke-linecap="butt"/>
<line x1="988.2" y1="886.4" x2="1001.9" y2="886.4" stroke="#211e1f" stroke-width="3.1" stroke-linecap="butt"/>
<line x1="127.6" y1="1526.6" x2="134.6" y2="1526.6" stroke="#211e1f" stroke-width="3.1" stroke-linecap="butt"/>
<line x1="994.9" y1="1526.6" x2="1001.9" y2="1526.6" stroke="#211e1f" stroke-width="3.1" stroke-linecap="butt"/>
<line x1="127.6" y1="1410.2" x2="134.6" y2="1410.2" stroke="#211e1f" stroke-width="3.1" stroke-linecap="butt"/>
<line x1="994.9" y1="1410.2" x2="1001.9" y2="1410.2" stroke="#211e1f" stroke-width="3.1" stroke-linecap="butt"/>
<line x1="127.6" y1="1293.8" x2="134.6" y2="1293.8" stroke="#211e1f" stroke-width="3.1" stroke-linecap="butt"/>
<line x1="994.9" y1="1293.8" x2="1001.9" y2="1293.8" stroke="#211e1f" stroke-width="3.1" stroke-linecap="butt"/>
<line x1="127.6" y1="1177.4" x2="134.6" y2="1177.4" stroke="#211e1f" stroke-width="3.1" stroke-linecap="butt"/>
<line x1="994.9" y1="1177.4" x2="1001.9" y2="1177.4" stroke="#211e1f" stroke-width="3.1" stroke-linecap="butt"/>
<line x1="127.6" y1="1061" x2="134.6" y2="1061" stroke="#211e1f" stroke-width="3.1" stroke-linecap="butt"/>
<line x1="994.9" y1="1061" x2="1001.9" y2="1061" stroke="#211e1f" stroke-width="3.1" stroke-linecap="butt"/>
<line x1="127.6" y1="944.6" x2="134.6" y2="944.6" stroke="#211e1f" stroke-width="3.1" stroke-linecap="butt"/>
<line x1="994.9" y1="944.6" x2="1001.9" y2="944.6" stroke="#211e1f" stroke-width="3.1" stroke-linecap="butt"/>
<rect x="134.6" y="886.4" width="867.3" height="698.4" fill="none" stroke="#211e1f" stroke-width="3.1"/>
<text transform="translate(110.13,897.75) scale(0.955,1)" font-size="33" text-anchor="end">1.0</text>
<text transform="translate(110.27,1014.15) scale(0.955,1)" font-size="33" text-anchor="end">0.8</text>
<text transform="translate(110.28,1130.55) scale(0.955,1)" font-size="33" text-anchor="end">0.6</text>
<text transform="translate(109.82,1246.95) scale(0.955,1)" font-size="33" text-anchor="end">0.4</text>
<text transform="translate(110.48,1363.35) scale(0.955,1)" font-size="33" text-anchor="end">0.2</text>
<text transform="translate(110.13,1479.75) scale(0.955,1)" font-size="33" text-anchor="end">0.0</text>
<text transform="translate(110.48,1596.15) scale(0.955,1)" font-size="33" text-anchor="end">-0.2</text>
<text x="114.27" y="1632.5" font-size="33" text-anchor="start" textLength="43.71" lengthAdjust="spacingAndGlyphs">0.0</text>
<text x="342.96" y="1632.5" font-size="33" text-anchor="start" textLength="109.24" lengthAdjust="spacingAndGlyphs">2.0 x 10</text>
<text x="451.69" y="1621.5" font-size="20.5" text-anchor="start" textLength="19.15" lengthAdjust="spacingAndGlyphs" stroke-width="0.7">11</text>
<text x="613.79" y="1632.5" font-size="33" text-anchor="start" textLength="109.66" lengthAdjust="spacingAndGlyphs">4.0 x 10</text>
<text x="722.94" y="1621.5" font-size="20.5" text-anchor="start" textLength="19.15" lengthAdjust="spacingAndGlyphs" stroke-width="0.7">11</text>
<text x="875.93" y="1632.5" font-size="33" text-anchor="start" textLength="110.03" lengthAdjust="spacingAndGlyphs">6.0 x 10</text>
<text x="985.44" y="1621.5" font-size="20.5" text-anchor="start" textLength="19.15" lengthAdjust="spacingAndGlyphs" stroke-width="0.7">11</text>
<text x="215.83" y="1703.75" font-size="36" text-anchor="start" textLength="156.05" lengthAdjust="spacingAndGlyphs">Acetylene</text>
<text x="378.91" y="1703.75" font-size="36" text-anchor="start" textLength="126.91" lengthAdjust="spacingAndGlyphs">number</text>
<text x="513.77" y="1703.75" font-size="36" text-anchor="start" textLength="115.2" lengthAdjust="spacingAndGlyphs">density</text>
<text x="638.62" y="1703.75" font-size="36" text-anchor="start" textLength="169.75" lengthAdjust="spacingAndGlyphs">(molecules</text>
<text x="817.74" y="1703.75" font-size="36" text-anchor="start" textLength="16" lengthAdjust="spacingAndGlyphs">x</text>
<text x="842.01" y="1703.75" font-size="36" text-anchor="start" textLength="49.96" lengthAdjust="spacingAndGlyphs">cm</text>
<text x="890.36" y="1690.25" font-size="21" text-anchor="start" textLength="18.88" lengthAdjust="spacingAndGlyphs" stroke-width="0.7">-3</text>
<text x="909.81" y="1703.75" font-size="36" text-anchor="start" textLength="10.93" lengthAdjust="spacingAndGlyphs">)</text>
<g transform="translate(27.6,1488.5) rotate(-90)">
<text x="-2.73" y="0" font-size="36" text-anchor="start" textLength="64.67" lengthAdjust="spacingAndGlyphs">First</text>
<text x="71.39" y="0" font-size="36" text-anchor="start" textLength="72.62" lengthAdjust="spacingAndGlyphs">order</text>
<text x="150.63" y="0" font-size="36" text-anchor="start" textLength="153.67" lengthAdjust="spacingAndGlyphs">reaction</text>
<text x="307.61" y="0" font-size="36" text-anchor="start" textLength="67.33" lengthAdjust="spacingAndGlyphs">rate</text>
<text x="380.44" y="0" font-size="36" text-anchor="start" textLength="130.32" lengthAdjust="spacingAndGlyphs">constant</text>
<text x="519.11" y="0" font-size="36" text-anchor="start" textLength="25.39" lengthAdjust="spacingAndGlyphs">(s</text>
<text x="544.64" y="-14" font-size="21" text-anchor="start" textLength="15.19" lengthAdjust="spacingAndGlyphs" stroke-width="0.7">-1</text>
<text x="561.91" y="0" font-size="36" text-anchor="start" textLength="11.05" lengthAdjust="spacingAndGlyphs">)</text>
</g>
<text x="161.24" y="944.5" font-size="60" text-anchor="start" textLength="29.57" lengthAdjust="spacingAndGlyphs">c</text>
<text x="459.16" y="943.25" font-size="46.5" text-anchor="start" textLength="24.76" lengthAdjust="spacingAndGlyphs">k</text>
<text x="482.24" y="949.5" font-size="43.5" text-anchor="start" textLength="115.39" lengthAdjust="spacingAndGlyphs">proto</text>
<text x="752.82" y="949.5" font-size="44" text-anchor="start" textLength="83.1" lengthAdjust="spacingAndGlyphs">m/z</text>
<text x="843.65" y="949.5" font-size="44" text-anchor="start" textLength="77.13" lengthAdjust="spacingAndGlyphs">106</text>
</g>
<g id="panel-d">
<polygon fill="#dbdde0" points="1187.25,1299.44 1201.71,1296.58 1216.16,1293.68 1230.62,1290.75 1245.07,1287.79 1259.53,1284.78 1273.98,1281.73 1288.44,1278.63 1302.9,1275.49 1317.35,1272.28 1331.81,1269.02 1346.26,1265.69 1360.72,1262.3 1375.18,1258.83 1389.63,1255.28 1404.09,1251.65 1418.54,1247.93 1433,1244.12 1447.45,1240.22 1461.91,1236.22 1476.37,1232.13 1490.82,1227.94 1505.28,1223.66 1519.73,1219.28 1534.19,1214.81 1548.65,1210.25 1563.1,1205.61 1577.56,1200.89 1592.01,1196.1 1606.47,1191.23 1620.92,1186.3 1635.38,1181.3 1649.84,1176.25 1664.29,1171.15 1678.75,1165.99 1693.2,1160.8 1707.66,1155.56 1722.12,1150.28 1736.57,1144.97 1751.03,1139.63 1765.48,1134.26 1779.94,1128.87 1794.39,1123.44 1808.85,1118 1823.31,1112.54 1837.76,1107.05 1852.22,1101.55 1866.67,1096.03 1881.13,1090.5 1895.59,1084.95 1910.04,1079.39 1924.5,1073.82 1938.95,1068.24 1953.41,1062.64 1967.86,1057.04 1982.32,1051.43 1996.78,1045.81 2011.23,1040.18 2025.69,1034.55 2040.14,1028.9 2054.6,1023.26 2054.6,1171.14 2040.14,1173.71 2025.69,1176.29 2011.23,1178.87 1996.78,1181.46 1982.32,1184.05 1967.86,1186.66 1953.41,1189.27 1938.95,1191.9 1924.5,1194.53 1910.04,1197.17 1895.59,1199.83 1881.13,1202.5 1866.67,1205.18 1852.22,1207.88 1837.76,1210.6 1823.31,1213.33 1808.85,1216.08 1794.39,1218.86 1779.94,1221.65 1765.48,1224.47 1751.03,1227.32 1736.57,1230.19 1722.12,1233.1 1707.66,1236.04 1693.2,1239.02 1678.75,1242.04 1664.29,1245.1 1649.84,1248.22 1635.38,1251.38 1620.92,1254.6 1606.47,1257.89 1592.01,1261.24 1577.56,1264.66 1563.1,1268.15 1548.65,1271.73 1534.19,1275.39 1519.73,1279.14 1505.28,1282.98 1490.82,1286.91 1476.37,1290.94 1461.91,1295.06 1447.45,1299.28 1433,1303.6 1418.54,1308.01 1404.09,1312.5 1389.63,1317.09 1375.18,1321.76 1360.72,1326.5 1346.26,1331.32 1331.81,1336.21 1317.35,1341.17 1302.9,1346.18 1288.44,1351.25 1273.98,1356.37 1259.53,1361.54 1245.07,1366.75 1230.62,1372 1216.16,1377.28 1201.71,1382.6 1187.25,1387.96"/>
<line x1="1187.25" y1="1343.7" x2="2054.6" y2="1097.2" stroke="#211e1f" stroke-width="4.4" stroke-linecap="butt"/>
<line x1="1256.5" y1="1340.5" x2="1274.5" y2="1340.5" stroke="#211e1f" stroke-width="3.0" stroke-linecap="butt"/>
<line x1="1256.5" y1="1333.8" x2="1256.5" y2="1347.2" stroke="#211e1f" stroke-width="3.0" stroke-linecap="round"/>
<line x1="1274.5" y1="1333.8" x2="1274.5" y2="1347.2" stroke="#211e1f" stroke-width="3.0" stroke-linecap="round"/>
<line x1="1265.5" y1="1301.25" x2="1265.5" y2="1379.5" stroke="#211e1f" stroke-width="3.0" stroke-linecap="butt"/>
<line x1="1258.8" y1="1301.25" x2="1272.2" y2="1301.25" stroke="#211e1f" stroke-width="3.0" stroke-linecap="round"/>
<line x1="1258.8" y1="1379.5" x2="1272.2" y2="1379.5" stroke="#211e1f" stroke-width="3.0" stroke-linecap="round"/>
<rect x="1257.2" y="1332.2" width="16.6" height="16.6" rx="1.2" fill="#211e1f"/>
<line x1="1328.5" y1="1283.5" x2="1367" y2="1283.5" stroke="#211e1f" stroke-width="3.0" stroke-linecap="butt"/>
<line x1="1328.5" y1="1276.8" x2="1328.5" y2="1290.2" stroke="#211e1f" stroke-width="3.0" stroke-linecap="round"/>
<line x1="1367" y1="1276.8" x2="1367" y2="1290.2" stroke="#211e1f" stroke-width="3.0" stroke-linecap="round"/>
<line x1="1347.75" y1="1252" x2="1347.75" y2="1315.5" stroke="#211e1f" stroke-width="3.0" stroke-linecap="butt"/>
<line x1="1341.05" y1="1252" x2="1354.45" y2="1252" stroke="#211e1f" stroke-width="3.0" stroke-linecap="round"/>
<line x1="1341.05" y1="1315.5" x2="1354.45" y2="1315.5" stroke="#211e1f" stroke-width="3.0" stroke-linecap="round"/>
<rect x="1339.45" y="1275.2" width="16.6" height="16.6" rx="1.2" fill="#211e1f"/>
<line x1="1617.75" y1="1263.25" x2="1731.5" y2="1263.25" stroke="#211e1f" stroke-width="3.0" stroke-linecap="butt"/>
<line x1="1617.75" y1="1256.55" x2="1617.75" y2="1269.95" stroke="#211e1f" stroke-width="3.0" stroke-linecap="round"/>
<line x1="1731.5" y1="1256.55" x2="1731.5" y2="1269.95" stroke="#211e1f" stroke-width="3.0" stroke-linecap="round"/>
<line x1="1674.5" y1="965.25" x2="1674.5" y2="1560" stroke="#211e1f" stroke-width="3.0" stroke-linecap="butt"/>
<line x1="1667.8" y1="965.25" x2="1681.2" y2="965.25" stroke="#211e1f" stroke-width="3.0" stroke-linecap="round"/>
<line x1="1667.8" y1="1560" x2="1681.2" y2="1560" stroke="#211e1f" stroke-width="3.0" stroke-linecap="round"/>
<rect x="1666.2" y="1254.95" width="16.6" height="16.6" rx="1.2" fill="#211e1f"/>
<line x1="1777.5" y1="1147.75" x2="1925.25" y2="1147.75" stroke="#211e1f" stroke-width="3.0" stroke-linecap="butt"/>
<line x1="1777.5" y1="1141.05" x2="1777.5" y2="1154.45" stroke="#211e1f" stroke-width="3.0" stroke-linecap="round"/>
<line x1="1925.25" y1="1141.05" x2="1925.25" y2="1154.45" stroke="#211e1f" stroke-width="3.0" stroke-linecap="round"/>
<line x1="1851.25" y1="1098.25" x2="1851.25" y2="1198" stroke="#211e1f" stroke-width="3.0" stroke-linecap="butt"/>
<line x1="1844.55" y1="1098.25" x2="1857.95" y2="1098.25" stroke="#211e1f" stroke-width="3.0" stroke-linecap="round"/>
<line x1="1844.55" y1="1198" x2="1857.95" y2="1198" stroke="#211e1f" stroke-width="3.0" stroke-linecap="round"/>
<rect x="1842.95" y="1139.45" width="16.6" height="16.6" rx="1.2" fill="#211e1f"/>
<line x1="1777.5" y1="1166.25" x2="1925.25" y2="1166.25" stroke="#211e1f" stroke-width="3.0" stroke-linecap="butt"/>
<line x1="1777.5" y1="1159.55" x2="1777.5" y2="1172.95" stroke="#211e1f" stroke-width="3.0" stroke-linecap="round"/>
<line x1="1925.25" y1="1159.55" x2="1925.25" y2="1172.95" stroke="#211e1f" stroke-width="3.0" stroke-linecap="round"/>
<line x1="1851.25" y1="1113.75" x2="1851.25" y2="1219" stroke="#211e1f" stroke-width="3.0" stroke-linecap="butt"/>
<line x1="1844.55" y1="1113.75" x2="1857.95" y2="1113.75" stroke="#211e1f" stroke-width="3.0" stroke-linecap="round"/>
<line x1="1844.55" y1="1219" x2="1857.95" y2="1219" stroke="#211e1f" stroke-width="3.0" stroke-linecap="round"/>
<rect x="1842.95" y="1157.95" width="16.6" height="16.6" rx="1.2" fill="#211e1f"/>
<line x1="1187.25" y1="1583.3" x2="1187.25" y2="1597" stroke="#211e1f" stroke-width="3.1" stroke-linecap="butt"/>
<line x1="1187.25" y1="884.9" x2="1187.25" y2="898.6" stroke="#211e1f" stroke-width="3.1" stroke-linecap="butt"/>
<line x1="1476.37" y1="1583.3" x2="1476.37" y2="1597" stroke="#211e1f" stroke-width="3.1" stroke-linecap="butt"/>
<line x1="1476.37" y1="884.9" x2="1476.37" y2="898.6" stroke="#211e1f" stroke-width="3.1" stroke-linecap="butt"/>
<line x1="1765.48" y1="1583.3" x2="1765.48" y2="1597" stroke="#211e1f" stroke-width="3.1" stroke-linecap="butt"/>
<line x1="1765.48" y1="884.9" x2="1765.48" y2="898.6" stroke="#211e1f" stroke-width="3.1" stroke-linecap="butt"/>
<line x1="2054.6" y1="1583.3" x2="2054.6" y2="1597" stroke="#211e1f" stroke-width="3.1" stroke-linecap="butt"/>
<line x1="2054.6" y1="884.9" x2="2054.6" y2="898.6" stroke="#211e1f" stroke-width="3.1" stroke-linecap="butt"/>
<line x1="1331.81" y1="1583.3" x2="1331.81" y2="1590.3" stroke="#211e1f" stroke-width="3.1" stroke-linecap="butt"/>
<line x1="1331.81" y1="884.9" x2="1331.81" y2="891.9" stroke="#211e1f" stroke-width="3.1" stroke-linecap="butt"/>
<line x1="1620.92" y1="1583.3" x2="1620.92" y2="1590.3" stroke="#211e1f" stroke-width="3.1" stroke-linecap="butt"/>
<line x1="1620.92" y1="884.9" x2="1620.92" y2="891.9" stroke="#211e1f" stroke-width="3.1" stroke-linecap="butt"/>
<line x1="1910.04" y1="1583.3" x2="1910.04" y2="1590.3" stroke="#211e1f" stroke-width="3.1" stroke-linecap="butt"/>
<line x1="1910.04" y1="884.9" x2="1910.04" y2="891.9" stroke="#211e1f" stroke-width="3.1" stroke-linecap="butt"/>
<line x1="1173.55" y1="1399.8" x2="1187.25" y2="1399.8" stroke="#211e1f" stroke-width="3.1" stroke-linecap="butt"/>
<line x1="2040.9" y1="1399.8" x2="2054.6" y2="1399.8" stroke="#211e1f" stroke-width="3.1" stroke-linecap="butt"/>
<line x1="1173.55" y1="1171.55" x2="1187.25" y2="1171.55" stroke="#211e1f" stroke-width="3.1" stroke-linecap="butt"/>
<line x1="2040.9" y1="1171.55" x2="2054.6" y2="1171.55" stroke="#211e1f" stroke-width="3.1" stroke-linecap="butt"/>
<line x1="1173.55" y1="943.3" x2="1187.25" y2="943.3" stroke="#211e1f" stroke-width="3.1" stroke-linecap="butt"/>
<line x1="2040.9" y1="943.3" x2="2054.6" y2="943.3" stroke="#211e1f" stroke-width="3.1" stroke-linecap="butt"/>
<line x1="1180.25" y1="1513.92" x2="1187.25" y2="1513.92" stroke="#211e1f" stroke-width="3.1" stroke-linecap="butt"/>
<line x1="2047.6" y1="1513.92" x2="2054.6" y2="1513.92" stroke="#211e1f" stroke-width="3.1" stroke-linecap="butt"/>
<line x1="1180.25" y1="1285.67" x2="1187.25" y2="1285.67" stroke="#211e1f" stroke-width="3.1" stroke-linecap="butt"/>
<line x1="2047.6" y1="1285.67" x2="2054.6" y2="1285.67" stroke="#211e1f" stroke-width="3.1" stroke-linecap="butt"/>
<line x1="1180.25" y1="1057.42" x2="1187.25" y2="1057.42" stroke="#211e1f" stroke-width="3.1" stroke-linecap="butt"/>
<line x1="2047.6" y1="1057.42" x2="2054.6" y2="1057.42" stroke="#211e1f" stroke-width="3.1" stroke-linecap="butt"/>
<rect x="1187.25" y="884.9" width="867.35" height="698.4" fill="none" stroke="#211e1f" stroke-width="3.1"/>
<text transform="translate(1165.58,954.65) scale(0.955,1)" font-size="33" text-anchor="end">0.2</text>
<text transform="translate(1165.54,1182.9) scale(0.955,1)" font-size="33" text-anchor="end">0.1</text>
<text transform="translate(1165.23,1411.15) scale(0.955,1)" font-size="33" text-anchor="end">0.0</text>
<text x="1169.81" y="1632.5" font-size="33" text-anchor="start" textLength="42.38" lengthAdjust="spacingAndGlyphs">0.0</text>
<text x="1415.71" y="1632.5" font-size="33" text-anchor="start" textLength="108.73" lengthAdjust="spacingAndGlyphs">2.0 x 10</text>
<text x="1523.94" y="1621.5" font-size="20.5" text-anchor="start" textLength="19.15" lengthAdjust="spacingAndGlyphs" stroke-width="0.7">11</text>
<text x="1705.79" y="1632.5" font-size="33" text-anchor="start" textLength="109.66" lengthAdjust="spacingAndGlyphs">4.0 x 10</text>
<text x="1814.94" y="1621.5" font-size="20.5" text-anchor="start" textLength="19.15" lengthAdjust="spacingAndGlyphs" stroke-width="0.7">11</text>
<text x="1995.43" y="1632.5" font-size="33" text-anchor="start" textLength="110.28" lengthAdjust="spacingAndGlyphs">6.0 x 10</text>
<text x="2105.19" y="1621.5" font-size="20.5" text-anchor="start" textLength="19.15" lengthAdjust="spacingAndGlyphs" stroke-width="0.7">11</text>
<text x="1286.83" y="1703.75" font-size="36" text-anchor="start" textLength="156.05" lengthAdjust="spacingAndGlyphs">Acetylene</text>
<text x="1449.91" y="1703.75" font-size="36" text-anchor="start" textLength="126.91" lengthAdjust="spacingAndGlyphs">number</text>
<text x="1584.77" y="1703.75" font-size="36" text-anchor="start" textLength="115.2" lengthAdjust="spacingAndGlyphs">density</text>
<text x="1709.62" y="1703.75" font-size="36" text-anchor="start" textLength="169.75" lengthAdjust="spacingAndGlyphs">(molecules</text>
<text x="1888.74" y="1703.75" font-size="36" text-anchor="start" textLength="16" lengthAdjust="spacingAndGlyphs">x</text>
<text x="1913.01" y="1703.75" font-size="36" text-anchor="start" textLength="49.96" lengthAdjust="spacingAndGlyphs">cm</text>
<text x="1961.36" y="1690.25" font-size="21" text-anchor="start" textLength="18.88" lengthAdjust="spacingAndGlyphs" stroke-width="0.7">-3</text>
<text x="1980.81" y="1703.75" font-size="36" text-anchor="start" textLength="10.93" lengthAdjust="spacingAndGlyphs">)</text>
<g transform="translate(1098.6,1488.5) rotate(-90)">
<text x="-2.73" y="0" font-size="36" text-anchor="start" textLength="64.67" lengthAdjust="spacingAndGlyphs">First</text>
<text x="71.39" y="0" font-size="36" text-anchor="start" textLength="72.62" lengthAdjust="spacingAndGlyphs">order</text>
<text x="150.63" y="0" font-size="36" text-anchor="start" textLength="153.67" lengthAdjust="spacingAndGlyphs">reaction</text>
<text x="307.61" y="0" font-size="36" text-anchor="start" textLength="67.33" lengthAdjust="spacingAndGlyphs">rate</text>
<text x="380.44" y="0" font-size="36" text-anchor="start" textLength="130.32" lengthAdjust="spacingAndGlyphs">constant</text>
<text x="519.11" y="0" font-size="36" text-anchor="start" textLength="25.39" lengthAdjust="spacingAndGlyphs">(s</text>
<text x="544.64" y="-14" font-size="21" text-anchor="start" textLength="15.19" lengthAdjust="spacingAndGlyphs" stroke-width="0.7">-1</text>
<text x="561.91" y="0" font-size="36" text-anchor="start" textLength="11.05" lengthAdjust="spacingAndGlyphs">)</text>
</g>
<text x="1216.72" y="944.5" font-size="66" text-anchor="start" textLength="40.19" lengthAdjust="spacingAndGlyphs">d</text>
<text x="1560.4" y="943.25" font-size="46.5" text-anchor="start" textLength="23.04" lengthAdjust="spacingAndGlyphs">k</text>
<text x="1583.35" y="949" font-size="43.5" text-anchor="start" textLength="90.3" lengthAdjust="spacingAndGlyphs">2,C7</text>
<text x="1852.35" y="949" font-size="44" text-anchor="start" textLength="82.46" lengthAdjust="spacingAndGlyphs">m/z</text>
<text x="1942.49" y="949" font-size="44" text-anchor="start" textLength="76.3" lengthAdjust="spacingAndGlyphs">130</text>
</g>
</svg>
</body></html>
